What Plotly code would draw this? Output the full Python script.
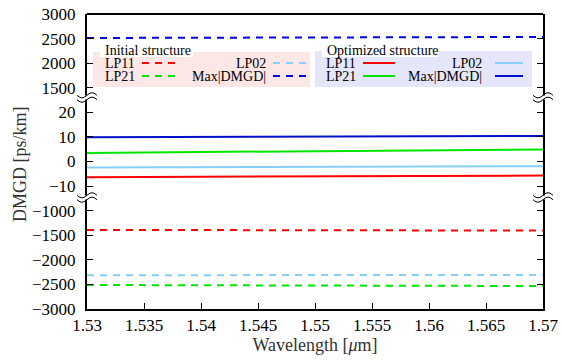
import plotly.graph_objects as go
import numpy as np

# ---------------- data ----------------
wavelength = [1.53, 1.54, 1.55, 1.56, 1.57]

# Initial structure (ps/km)
init_lp11 = [-1391, -1395, -1398, -1402, -1405]
init_lp02 = [-2313, -2312, -2310, -2308, -2307]
init_lp21 = [-2512, -2517, -2522, -2528, -2533]
init_max = [2512, 2517, 2522, 2528, 2533]

# Optimized structure (ps/km)
opt_lp11 = [-6.4, -6.2, -6.0, -5.9, -5.7]
opt_lp02 = [-2.4, -2.3, -2.15, -2.0, -1.9]
opt_lp21 = [3.5, 3.85, 4.2, 4.55, 4.9]
opt_max = [9.9, 10.05, 10.2, 10.3, 10.4]

x_ticks = [1.53, 1.535, 1.54, 1.545, 1.55, 1.555, 1.56, 1.565, 1.57]
x_ticktext = ["1.53", "1.535", "1.54", "1.545", "1.55", "1.555", "1.56", "1.565", "1.57"]
top_ticks = [1500, 2000, 2500, 3000]
mid_ticks = [-10, 0, 10, 20]
bot_ticks = [-3000, -2500, -2000, -1500, -1000]

RED = "#ff0000"
GREEN = "#00e600"
LBLUE = "#87cefa"
BLUE = "#0000e0"
DBLUE = "#0010c8"

W, H = 562, 361
L, R, T, B = 87, 19, 14, 52
PW = W - L - R
PH = H - T - B


def px(x):
    return (x - L) / PW


def py(y):
    return (H - B - y) / PH


def lab(v):
    s = str(v)
    return s.replace("-", "\u2212")


FONT = "Liberation Serif, Times New Roman, DejaVu Serif, serif"

fig = go.Figure()
dash = "7px,6px"

fig.add_trace(go.Scatter(x=wavelength, y=init_lp11, mode="lines", yaxis="y3",
                         line=dict(color=RED, width=2, dash=dash), showlegend=False))
fig.add_trace(go.Scatter(x=wavelength, y=init_lp02, mode="lines", yaxis="y3",
                         line=dict(color=LBLUE, width=2, dash=dash), showlegend=False))
fig.add_trace(go.Scatter(x=wavelength, y=init_lp21, mode="lines", yaxis="y3",
                         line=dict(color=GREEN, width=2, dash=dash), showlegend=False))
fig.add_trace(go.Scatter(x=wavelength, y=init_max, mode="lines", yaxis="y",
                         line=dict(color=BLUE, width=2, dash=dash), showlegend=False))

fig.add_trace(go.Scatter(x=wavelength, y=opt_lp11, mode="lines", yaxis="y2",
                         line=dict(color=RED, width=2), showlegend=False))
fig.add_trace(go.Scatter(x=wavelength, y=opt_lp02, mode="lines", yaxis="y2",
                         line=dict(color=LBLUE, width=2), showlegend=False))
fig.add_trace(go.Scatter(x=wavelength, y=opt_lp21, mode="lines", yaxis="y2",
                         line=dict(color=GREEN, width=2), showlegend=False))
fig.add_trace(go.Scatter(x=wavelength, y=opt_max, mode="lines", yaxis="y2",
                         line=dict(color=DBLUE, width=2), showlegend=False))

yax_common = dict(showline=True, linecolor="black", linewidth=2, mirror="ticks",
                  ticks="inside", ticklen=6, tickwidth=1, tickcolor="black",
                  showgrid=False, zeroline=False, anchor="x",
                  tickfont=dict(family=FONT, size=17, color="black"),
                  ticklabelstandoff=6)

u = 1.0 / 12
fig.update_layout(
    width=W, height=H,
    margin=dict(l=L, r=R, t=T, b=B, autoexpand=False),
    paper_bgcolor="white", plot_bgcolor="white",
    font=dict(family=FONT),
    xaxis=dict(range=[1.53, 1.57], tickvals=x_ticks, ticktext=x_ticktext,
               showline=True, linecolor="black", linewidth=2, ticks="inside",
               ticklen=6, tickcolor="black", showgrid=False, zeroline=False,
               anchor="y3", tickfont=dict(family=FONT, size=17, color="black"),
               title=dict(text="Wavelength [<i>\u03bc</i>m]", standoff=2,
                          font=dict(family=FONT, size=18, color="#333"))),
    yaxis=dict(domain=[8.5 * u, 1], range=[1250, 3000], tickvals=top_ticks,
               ticktext=[lab(v) for v in top_ticks], **yax_common),
    yaxis2=dict(domain=[4.5 * u, 8.5 * u], range=[-15, 25], tickvals=mid_ticks,
                ticktext=[lab(v) for v in mid_ticks], **yax_common),
    yaxis3=dict(domain=[0, 4.5 * u], range=[-3000, -750], tickvals=bot_ticks,
                ticktext=[lab(v) for v in bot_ticks], **yax_common),
)

shapes = []
annotations = []

# top frame line
shapes.append(dict(type="line", xref="paper", yref="paper", x0=0, x1=1, y0=1, y1=1,
                   line=dict(color="black", width=2)))

# axis break marks
def wave_path(xc, yc, dy):
    xs = np.linspace(xc - 10, xc + 10, 21)
    pts = [(px(x), py(yc + dy - 2.5 * np.sin((x - xc) / 10 * np.pi))) for x in xs]
    return "M " + " L ".join(f"{a:.5f},{b:.5f}" for a, b in pts)


for yc in (97.5, 197.5):
    for xc in (L, L + PW):
        shapes.append(dict(type="rect", xref="paper", yref="paper",
                           x0=px(xc - 3), x1=px(xc + 3), y0=py(yc + 2), y1=py(yc - 2),
                           fillcolor="white", line=dict(width=0), layer="above"))
        for dy in (-2.2, 2.2):
            shapes.append(dict(type="path", xref="paper", yref="paper",
                               path=wave_path(xc, yc, dy),
                               line=dict(color="black", width=1), layer="above"))


def legend_block(x0, x1, y0, y1, fill, title, tx0, tx1, lx, rx, key1, key2, dashstyle,
                 colors):
    shapes.append(dict(type="rect", xref="paper", yref="paper", x0=px(x0), x1=px(x1),
                       y0=py(y1), y1=py(y0), fillcolor=fill, line=dict(width=0),
                       layer="below"))
    shapes.append(dict(type="rect", xref="paper", yref="paper", x0=px(tx0), x1=px(tx1),
                       y0=py(57), y1=py(44), fillcolor="white", line=dict(width=0),
                       layer="below"))
    annotations.append(dict(text=title, x=px(tx0 + 3), y=py(50.5), xref="paper",
                            yref="paper", xanchor="left", yanchor="middle",
                            showarrow=False, font=dict(family=FONT, size=14, color="black")))
    rows = [("LP11", "LP02", 63.5), ("LP21", "Max|DMGD|", 76.5)]
    for i, (a, b, yy) in enumerate(rows):
        annotations.append(dict(text=a, x=px(lx), y=py(yy), xref="paper", yref="paper",
                                xanchor="left", yanchor="middle", showarrow=False,
                                font=dict(family=FONT, size=14, color="black")))
        annotations.append(dict(text=b, x=px(rx), y=py(yy), xref="paper", yref="paper",
                                xanchor="right", yanchor="middle", showarrow=False,
                                font=dict(family=FONT, size=14, color="black")))
        ca, cb = colors[i]
        shapes.append(dict(type="line", xref="paper", yref="paper", x0=px(key1[0]),
                           x1=px(key1[1]), y0=py(yy - 0.5), y1=py(yy - 0.5),
                           line=dict(color=ca, width=2, dash=dashstyle)))
        shapes.append(dict(type="line", xref="paper", yref="paper", x0=px(key2[0]),
                           x1=px(key2[1]), y0=py(yy - 0.5), y1=py(yy - 0.5),
                           line=dict(color=cb, width=2, dash=dashstyle)))


legend_block(93, 310, 52, 87, "#fce6e6", "Initial structure", 100, 193, 103, 268,
             (142, 176), (273, 307), dash, [(RED, LBLUE), (GREEN, BLUE)])
legend_block(315, 532, 51, 87, "#e6e6fa", "Optimized structure", 322, 438, 324, 484,
             (363, 395), (495, 523), "solid", [(RED, LBLUE), (GREEN, DBLUE)])

annotations.append(dict(text="DMGD [ps/km]", x=px(20), y=py(164), xref="paper",
                        yref="paper", xanchor="center", yanchor="middle", textangle=-90,
                        showarrow=False, font=dict(family=FONT, size=18, color="#333")))

fig.update_layout(shapes=shapes, annotations=annotations)
fig.write_html("out.html", config={"displayModeBar": False},
               post_script="document.body.style.margin='0px';")
